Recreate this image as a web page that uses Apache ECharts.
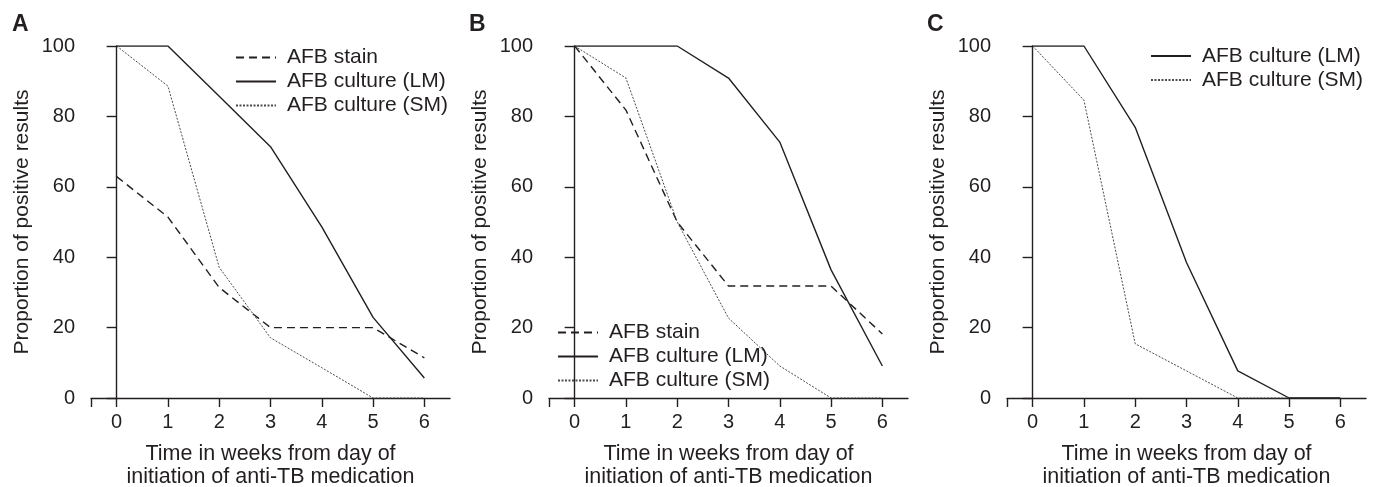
<!DOCTYPE html>
<html>
<head>
<meta charset="utf-8">
<script src="https://cdn.jsdelivr.net/npm/echarts@6/dist/echarts.min.js"></script>
<style>
  html, body { margin: 0; padding: 0; background: #fff; }
  #chart { width: 1377px; height: 487px; }
</style>
</head>
<body>
<div id="chart"></div>
<script>
// weeks since start of anti-TB medication
const weeks = [0, 1, 2, 3, 4, 5, 6];
const xTickValues = [-0.5, 0, 1, 2, 3, 4, 5, 6];
const xLabelValues = [0, 1, 2, 3, 4, 5, 6];

// panel A
const aStain = [62.9, 51.4, 31.4, 20, 20, 20, 11.4];
const aCultureLM = [100, 100, 85.7, 71.4, 48.6, 22.9, 5.7];
const aCultureSM = [100, 88.6, 37.1, 17.1, 8.6, 0, 0];
// panel B
const bStain = [100, 81.8, 50, 31.8, 31.8, 31.8, 18.2];
const bCultureLM = [100, 100, 100, 90.9, 72.7, 36.4, 9.1];
const bCultureSM = [100, 90.9, 50, 22.7, 9.1, 0, 0];
// panel C
const cCultureLM = [100, 100, 76.9, 38.5, 7.7, 0, 0];
const cCultureSM = [100, 84.6, 15.4, 7.7, 0, 0, 0];

const INK = '#231f20';
const FONT = '"Liberation Sans", Arial, sans-serif';
const panelLeft = [91, 549, 1007];

function pairs(vals) {
  return weeks.map((w, i) => [w, vals[i]]);
}

const styles = {
  stain: { color: INK, width: 1.4, type: [8, 5] },
  lm: { color: INK, width: 1.4, type: 'solid' },
  sm: { color: '#4a4a4a', width: 1, type: [2, 1.5] }
};

function line(name, vals, idx, st) {
  return {
    name: name,
    type: 'line',
    xAxisIndex: idx,
    yAxisIndex: idx,
    data: pairs(vals),
    symbol: 'none',
    lineStyle: st,
    itemStyle: { color: st.color },
    z: st === styles.lm ? 3 : 2
  };
}

const grids = panelLeft.map(l => ({ left: l, top: 46, width: 359, height: 352, outerBoundsMode: 'none', containLabel: false }));

const xAxes = panelLeft.map((l, i) => ({
  type: 'value',
  gridIndex: i,
  min: -0.5,
  max: 6.5,
  splitLine: { show: false },
  axisLine: { lineStyle: { color: INK, width: 1.4 } },
  axisTick: { show: true, length: 9, customValues: xTickValues, lineStyle: { color: INK, width: 1.4 } },
  axisLabel: { customValues: xLabelValues, margin: 14, fontSize: 20, color: INK, fontFamily: FONT },
  name: 'Time in weeks from day of\ninitiation of anti-TB medication',
  nameLocation: 'middle',
  nameGap: 45,
  nameTextStyle: { fontSize: 21.5, color: INK, fontFamily: FONT, lineHeight: 23 }
}));

const yAxes = panelLeft.map((l, i) => ({
  type: 'value',
  gridIndex: i,
  min: 0,
  max: 100,
  interval: 20,
  splitLine: { show: false },
  axisLine: { show: true, lineStyle: { color: INK, width: 1.4 } },
  axisTick: { show: true, length: 10, lineStyle: { color: INK, width: 1.4 } },
  axisLabel: { margin: 16, fontSize: 20, color: INK, fontFamily: FONT },
  name: 'Proportion of positive results',
  nameLocation: 'middle',
  nameGap: 58,
  nameTextStyle: { fontSize: 21, color: INK, fontFamily: FONT }
}));

function legend(left, top, names) {
  return {
    left: left,
    top: top,
    padding: 0,
    orient: 'vertical',
    itemWidth: 40,
    itemHeight: 14,
    itemGap: 3,
    selectedMode: false,
    data: names,
    itemStyle: { opacity: 0 },
    textStyle: { fontSize: 21, lineHeight: 21, color: INK, fontFamily: FONT, padding: [0, 0, 0, 6] }
  };
}

const chart = echarts.init(document.getElementById('chart'));
chart.setOption({
  animation: false,
  backgroundColor: '#fff',
  title: [
    { text: 'A', left: 12, top: 13 },
    { text: 'B', left: 469, top: 13 },
    { text: 'C', left: 927, top: 13 }
  ].map(t => Object.assign(t, { padding: 0, textStyle: { fontSize: 23, fontWeight: 'bold', color: INK, fontFamily: FONT } })),
  grid: grids,
  xAxis: xAxes,
  yAxis: yAxes,
  legend: [
    legend(235, 47, ['AFB stain', 'AFB culture (LM)', 'AFB culture (SM)']),
    legend(557, 322, ['AFB stain', 'AFB culture (LM)', 'AFB culture (SM)']),
    legend(1150, 45.5, ['AFB culture (LM)', 'AFB culture (SM)'])
  ],
  series: [
    line('AFB stain', aStain, 0, styles.stain),
    line('AFB culture (LM)', aCultureLM, 0, styles.lm),
    line('AFB culture (SM)', aCultureSM, 0, styles.sm),
    line('AFB stain', bStain, 1, styles.stain),
    line('AFB culture (LM)', bCultureLM, 1, styles.lm),
    line('AFB culture (SM)', bCultureSM, 1, styles.sm),
    line('AFB culture (LM)', cCultureLM, 2, styles.lm),
    line('AFB culture (SM)', cCultureSM, 2, styles.sm)
  ]
});
</script>
</body>
</html>
